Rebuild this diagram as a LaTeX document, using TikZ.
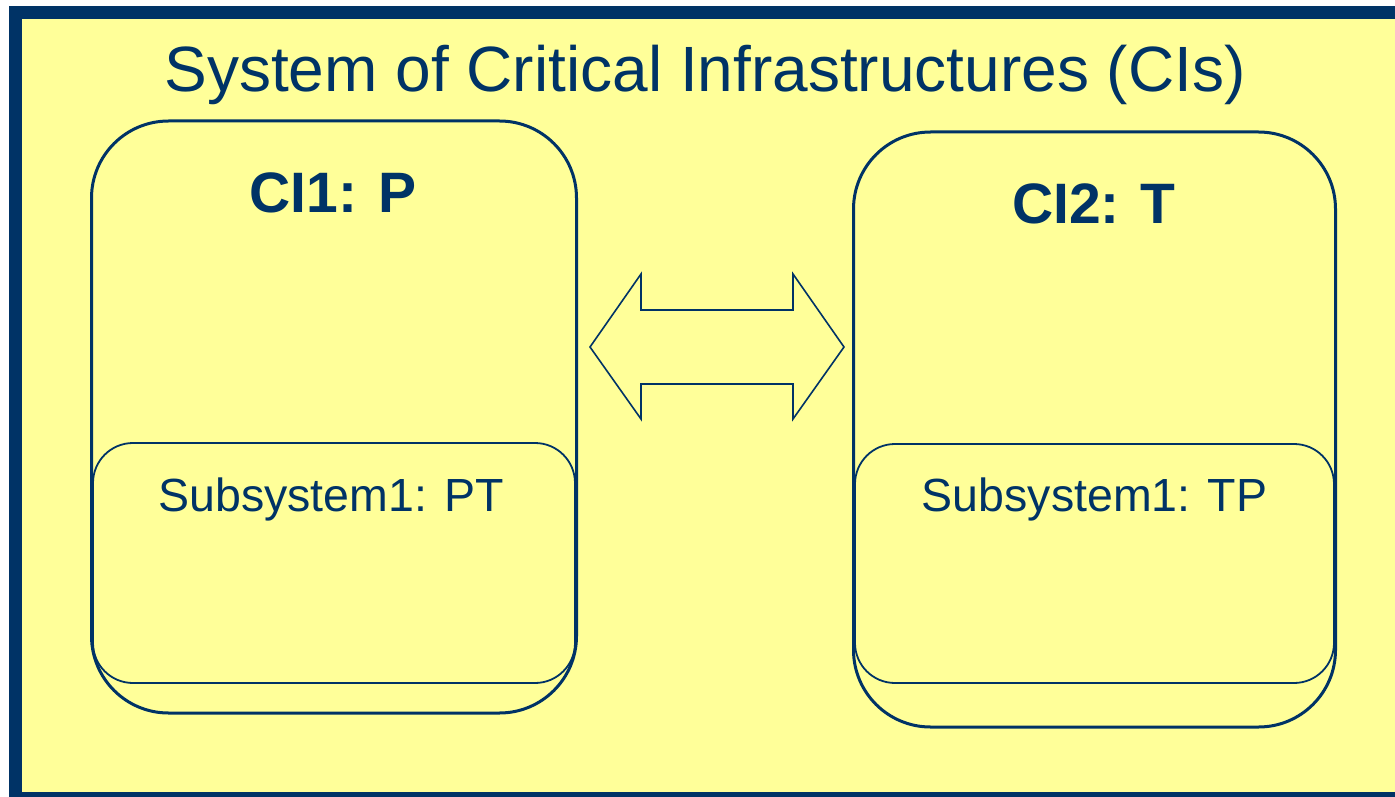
\documentclass[tikz,border=0pt]{standalone}
\usepackage{fontspec}
\setmainfont{Liberation Sans}
\definecolor{bgyellow}{HTML}{FFFF99}
\definecolor{navy}{HTML}{003366}
\begin{document}
\begin{tikzpicture}[x=1pt,y=-1pt,
  cibox/.style={draw=navy, line width=3pt, rounded corners=77pt, inner sep=0pt},
  subbox/.style={draw=navy, line width=1.8pt, rounded corners=40pt, inner sep=0pt},
  titletext/.style={text=navy, font=\fontsize{64}{70}\selectfont, anchor=base, inner sep=0pt},
  citext/.style={text=navy, font=\fontsize{57}{60}\selectfont\bfseries, anchor=base, inner sep=0pt},
  subtext/.style={text=navy, font=\fontsize{46.5}{50}\selectfont, anchor=base, inner sep=0pt}]
\useasboundingbox (0,0) rectangle (1395,797);
\clip (0,0) rectangle (1395,797);
\fill[white] (0,0) rectangle (1395,797);
% frame
\draw[navy, line width=12.5pt, fill=bgyellow] (15.25,12.75) rectangle (1420,798.5);
% title
\node[titletext] (title) at (705,92) {System of Critical Infrastructures (CIs)};
% CI boxes
\node[cibox, minimum width=485pt, minimum height=592pt] (ci1) at (334,417) {};
\node[cibox, minimum width=482pt, minimum height=595pt] (ci2) at (1094.5,429.5) {};
\node[subbox, minimum width=482pt, minimum height=240pt] (sub1) at (334,563) {};
\node[subbox, minimum width=479pt, minimum height=239pt] (sub2) at (1094.5,563.5) {};
\node[citext] (ci1label) at (333,212) {CI1: P};
\node[citext] (ci2label) at (1094,223) {CI2: T};
\node[subtext] (sub1label) at (331,511) {Subsystem1: PT};
\node[subtext] (sub2label) at (1094.5,511) {Subsystem1: TP};
% double arrow
\coordinate (lt) at (590,347);
\coordinate (rt) at (844,347);
\draw[navy, line width=1.6pt, line join=miter]
  (lt) -- (641,274) -- (641,310) -- (793,310) -- (793,274) -- (rt)
  -- (793,419) -- (793,384) -- (641,384) -- (641,419) -- cycle;
\end{tikzpicture}
\end{document}
